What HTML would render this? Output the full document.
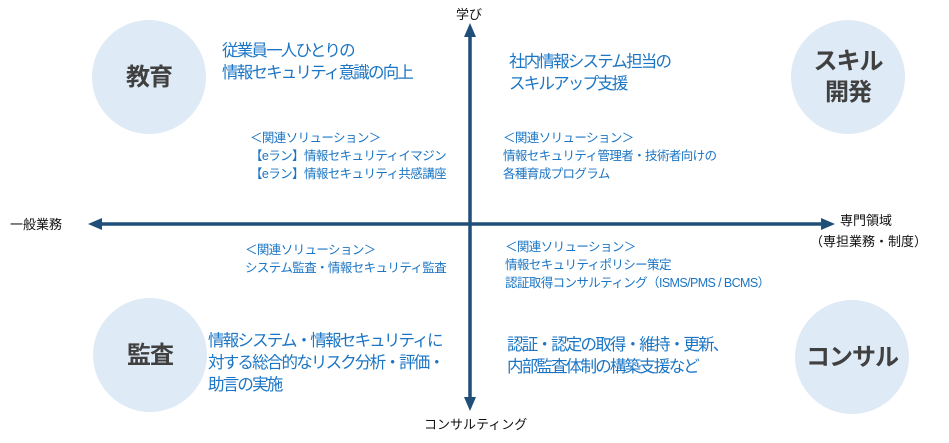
<!DOCTYPE html>
<html><head><meta charset="utf-8"><style>
body{margin:0;width:949px;height:443px;background:#fff;position:relative;overflow:hidden;font-family:"Liberation Sans","Noto Sans CJK JP",sans-serif;}
.c{position:absolute;width:114px;height:114px;border-radius:50%;background:#deeaf6;color:#404040;font-weight:bold;font-size:24px;display:flex;align-items:center;justify-content:center;text-align:center;line-height:31px;letter-spacing:-1px;}
.t{position:absolute;white-space:nowrap;color:#1b75c4;}
.b{font-size:16.5px;line-height:22px;letter-spacing:-1.8px;}
.s{font-size:12.5px;line-height:18px;letter-spacing:-0.6px;}
.k{position:absolute;white-space:nowrap;color:#111;font-size:13px;line-height:19px;}
</style></head><body>
<svg width="949" height="443" style="position:absolute;left:0;top:0">
<line x1="100" y1="224" x2="823" y2="224" stroke="#1f4e79" stroke-width="3.5"/>
<polygon points="88,224 102,218 102,230" fill="#1f4e79"/>
<polygon points="835,224 821,218 821,230" fill="#1f4e79"/>
<line x1="470" y1="34" x2="470" y2="400" stroke="#1f4e79" stroke-width="3.5"/>
<polygon points="470,23 464,37 476,37" fill="#1f4e79"/>
<polygon points="470,411 464,397 476,397" fill="#1f4e79"/>
</svg>
<div class="c" style="left:92px;top:20px">教育</div>
<div class="c" style="left:791px;top:20px">スキル<br>開発</div>
<div class="c" style="left:93px;top:298px">監査</div>
<div class="c" style="left:795px;top:300px">コンサル</div>
<div class="t b" style="left:222px;top:40px">従業員一人ひとりの<br>情報セキュリティ意識の向上</div>
<div class="t b" style="left:509px;top:51px">社内情報システム担当の<br>スキルアップ支援</div>
<div class="t s" style="left:250px;top:129px">＜関連ソリューション＞<br>【eラン】情報セキュリティイマジン<br>【eラン】情報セキュリティ共感講座</div>
<div class="t s" style="left:503px;top:129px">＜関連ソリューション＞<br>情報セキュリティ管理者・技術者向けの<br>各種育成プログラム</div>
<div class="t s" style="left:245px;top:241px">＜関連ソリューション＞<br>システム監査・情報セキュリティ監査</div>
<div class="t s" style="left:505px;top:238px">＜関連ソリューション＞<br>情報セキュリティポリシー策定<br>認証取得コンサルティング（ISMS/PMS / BCMS）</div>
<div class="t b" style="left:208px;top:330px">情報システム・情報セキュリティに<br>対する総合的なリスク分析・評価・<br>助言の実施</div>
<div class="t b" style="left:507px;top:334px">認証・認定の取得・維持・更新、<br>内部監査体制の構築支援など</div>
<div class="k" style="left:10px;top:215px">一般業務</div>
<div class="k" style="left:840px;top:211px">専門領域</div>
<div class="k" style="left:810px;top:232px">（専担業務・制度）</div>
<div class="k" style="left:456px;top:5px">学び</div>
<div class="k" style="left:424px;top:415px">コンサルティング</div>
</body></html>
